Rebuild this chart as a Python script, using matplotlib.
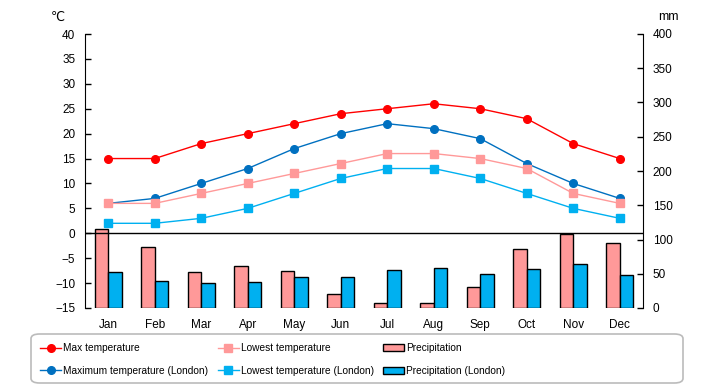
import matplotlib.pyplot as plt
from matplotlib import font_manager
from matplotlib.patches import FancyBboxPatch
import numpy as np

# prefer a narrow face if one is installed, the original uses a condensed font
names = {f.name for f in font_manager.fontManager.ttflist}
narrow = [n for n in ("Liberation Sans Narrow", "Arial Narrow") if n in names]
plt.rcParams['font.family'] = narrow + ['Liberation Sans', 'DejaVu Sans']
leg_size = 9 if narrow else 7.3

months = ["Jan", "Feb", "Mar", "Apr", "May", "Jun", "Jul", "Aug", "Sep", "Oct", "Nov", "Dec"]
max_temp = [15, 15, 18, 20, 22, 24, 25, 26, 25, 23, 18, 15]
low_temp = [6, 6, 8, 10, 12, 14, 16, 16, 15, 13, 8, 6]
max_temp_london = [6, 7, 10, 13, 17, 20, 22, 21, 19, 14, 10, 7]
low_temp_london = [2, 2, 3, 5, 8, 11, 13, 13, 11, 8, 5, 3]
precip = [115, 89, 52, 61, 54, 21, 7, 8, 30, 86, 108, 95]
precip_london = [52, 39, 36, 38, 45, 45, 55, 58, 49, 57, 64, 48]

x = np.arange(len(months))

fig = plt.figure(figsize=(7.2, 3.85), dpi=100)
ax = fig.add_axes([85 / 720, 1 - 308 / 385, (643 - 85) / 720, (308 - 34) / 385])

# precipitation on the right axis
ax2 = ax.twinx()
w = 0.29
b1 = ax2.bar(x - w / 2, precip, w, color="#FF9999", edgecolor="black", linewidth=1, label="Precipitation")
b2 = ax2.bar(x + w / 2, precip_london, w, color="#00B0F0", edgecolor="black", linewidth=1,
             label="Precipitation (London)")
ax2.set_ylim(0, 400)
ax2.set_yticks(range(0, 401, 50))

# temperatures drawn over bars
ax.set_zorder(ax2.get_zorder() + 1)
ax.patch.set_visible(False)
ax2.patch.set_facecolor("#FFFFCC")

ax.axhline(0, color="black", linewidth=1)
l1, = ax.plot(x, max_temp, color="#FF0000", marker="o", markersize=5.5, linewidth=1, label="Max temperature")
l2, = ax.plot(x, max_temp_london, color="#0070C0", marker="o", markersize=5.5, linewidth=1,
              label="Maximum temperature (London)")
l3, = ax.plot(x, low_temp, color="#FF9999", marker="s", markersize=5.5, linewidth=1, label="Lowest temperature")
l4, = ax.plot(x, low_temp_london, color="#00B0F0", marker="s", markersize=5.5, linewidth=1,
              label="Lowest temperature (London)")

ax.set_ylim(-15, 40)
ax.set_yticks(range(-15, 41, 5))
ax.set_xlim(-0.5, 11.5)
ax.set_xticks(x)
ax.set_xticklabels(months)

for a in (ax, ax2):
    a.spines["top"].set_visible(False)
    a.spines["bottom"].set_visible(False)
    a.tick_params(labelsize=8.5, length=4, width=1, direction="in", pad=7)
ax.tick_params(axis="x", length=0, pad=8)
ax2.spines["left"].set_visible(False)
ax.spines["right"].set_visible(False)

fig.text(58 / 720, 1 - 17 / 385, "℃", fontsize=9, ha="center", va="center", family="DejaVu Sans")
fig.text(668 / 720, 1 - 17 / 385, "mm", fontsize=9, ha="center", va="center")

# legend box
frame = FancyBboxPatch((31 / 720, 2 / 385), 652 / 720, 49 / 385, boxstyle="round,pad=0,rounding_size=0.012",
                       transform=fig.transFigure, facecolor="white", edgecolor="#BBBBBB", linewidth=1.2)
fig.patches.append(frame)
leg = fig.legend([l1, l2, l3, l4, b1, b2],
                 [h.get_label() for h in [l1, l2, l3, l4, b1, b2]],
                 ncol=3, loc="center left", bbox_to_anchor=(31 / 720, 1 - 359.5 / 385),
                 fontsize=leg_size, frameon=False, handlelength=2.1, handletextpad=0.2,
                 labelspacing=1.25, columnspacing=0.9)

fig.savefig("out.png", dpi=100)
